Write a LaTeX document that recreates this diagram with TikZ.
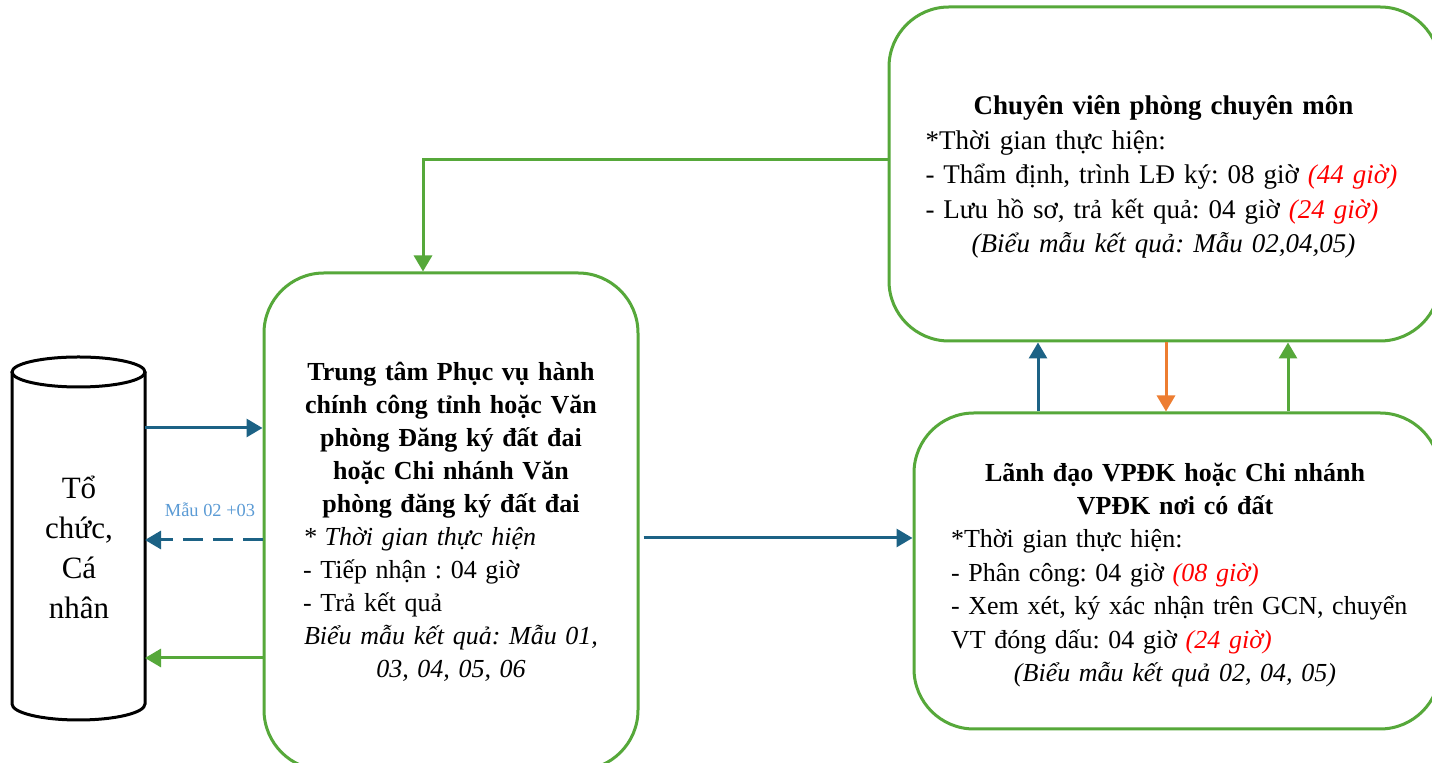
\documentclass[tikz,border=0pt]{standalone}
\usepackage{fontspec}
\setmainfont{Liberation Serif}
\usetikzlibrary{arrows.meta}
\definecolor{boxgreen}{HTML}{56A83A}
\definecolor{arrblue}{HTML}{1C6285}
\definecolor{arrorange}{HTML}{ED7D31}
\definecolor{lblblue}{HTML}{5B9BD5}
\newcommand{\lineL}[1]{\makebox[\linewidth][l]{#1}}
\newcommand{\lineC}[1]{\makebox[\linewidth][c]{#1}}
\newcommand{\redit}[1]{{\color{red}\itshape #1}}
\frenchspacing
\begin{document}
\begin{tikzpicture}[x=0.5pt,y=-0.5pt,
  box/.style={draw=boxgreen, line width=1.5pt, rounded corners=30pt, fill=white, inner sep=0pt},
  txt/.style={align=left, inner sep=0pt},
  arr/.style={line width=1.5pt, -{Triangle[width=9pt,length=8pt]}},
  bluearr/.style={arr, draw=arrblue},
  greenarr/.style={arr, draw=boxgreen},
  orangearr/.style={arr, draw=arrorange},
  cyl/.style={draw=black, line width=1.5pt, fill=white},
  lbl/.style={text=lblblue, font=\fontsize{9.2}{11}\selectfont, inner sep=1pt}
]
\clip (0,0) rectangle (1432,763);
\fill[white] (0,0) rectangle (1432,763);

% cylinder
\draw[cyl] (12,372) -- (12,704) arc[start angle=180,end angle=360,x radius=33.25pt,y radius=8pt] -- (145,372);
\draw[cyl] (78.5,372) ellipse[x radius=33.25pt, y radius=7.5pt];
\node[minimum width=66.5pt, minimum height=166pt, inner sep=0pt, outer sep=0pt] (org) at (78.5,538) {};
\node[font=\fontsize{15.5}{20}\selectfont, align=center] (orgtext) at (79,547) {Tổ\\chức,\\Cá\\nhân};

% boxes
\node[box, minimum width=187pt, minimum height=248.5pt] (mid) at (451,521.5) {};
\node[box, minimum width=275.5pt, minimum height=167pt] (top) at (1164.5,174) {};
\node[box, minimum width=263pt, minimum height=158pt] (bot) at (1177,571) {};

% texts
\node[txt, text width=148pt, font=\fontsize{13}{16.5}\selectfont] (midtext) at (451,521.5) {%
\lineC{\textbf{Trung tâm Phục vụ hành}}\\
\lineC{\textbf{chính công tỉnh hoặc Văn}}\\
\lineC{\textbf{phòng Đăng ký đất đai}}\\
\lineC{\textbf{hoặc Chi nhánh Văn}}\\
\lineC{\textbf{phòng đăng ký đất đai}}\\
\lineL{\textit{* Thời gian thực hiện}}\\
\lineL{- Tiếp nhận : 04 giờ}\\
\lineL{- Trả kết quả}\\
\lineC{\textit{Biểu mẫu kết quả: Mẫu 01,}}\\
\lineC{\textit{03, 04, 05, 06}}};

\node[txt, text width=238pt, font=\fontsize{13.5}{17.25}\selectfont] (toptext) at (1163.5,177) {%
\lineC{\textbf{Chuyên viên phòng chuyên môn}}\\
\lineL{*Thời gian thực hiện:}\\
\lineL{- Thẩm định, trình LĐ ký: 08 giờ \redit{(44 giờ)}}\\
\lineL{- Lưu hồ sơ, trả kết quả: 04 giờ \redit{(24 giờ)}}\\
\lineC{\textit{(Biểu mẫu kết quả: Mẫu 02,04,05)}}};

\node[txt, text width=224pt, font=\fontsize{13}{16.7}\selectfont] (bottext) at (1175,575) {%
\lineC{\textbf{Lãnh đạo VPĐK hoặc Chi nhánh}}\\
\lineC{\textbf{VPĐK nơi có đất}}\\
\lineL{*Thời gian thực hiện:}\\
\lineL{- Phân công: 04 giờ \redit{(08 giờ)}}\\
\lineL{- Xem xét, ký xác nhận trên GCN, chuyển}\\
\lineL{VT đóng dấu: 04 giờ \redit{(24 giờ)}}\\
\lineC{\textit{(Biểu mẫu kết quả 02, 04, 05)}}};

% connectors cylinder <-> middle
\coordinate (a1) at ([yshift=55pt]org.east);
\draw[bluearr] (a1) -- (a1 -| mid.west);
\coordinate (d1) at ([yshift=-9.25pt]mid.west);
\draw[bluearr, dash pattern=on 10pt off 5pt] (d1) -- (d1 -| org.east);
\coordinate (g0) at ([yshift=-68.25pt]mid.west);
\draw[greenarr] (g0) -- (g0 -| org.east);
\node[lbl] (m0203) at (210,510) {Mẫu 02 +03};

% middle -> bottom right
\coordinate (b1) at ([yshift=-8.25pt,xshift=2pt]mid.east);
\draw[bluearr] (b1) -- (b1 -| bot.west);

% top -> middle (green route)
\coordinate (g1) at ([yshift=7pt]top.west);
\coordinate (g2) at ([xshift=-14pt]mid.north);
\draw[greenarr] (g1) -| (g2);

% vertical arrows
\coordinate (v1) at ([xshift=-69.5pt]bot.north);
\coordinate (v2) at ([xshift=-5.5pt]bot.north);
\coordinate (v3) at ([xshift=55.5pt]bot.north);
\draw[bluearr] (v1) -- (v1 |- top.south);
\draw[orangearr] (v2 |- top.south) -- (v2);
\draw[greenarr] (v3) -- (v3 |- top.south);
\end{tikzpicture}
\end{document}
